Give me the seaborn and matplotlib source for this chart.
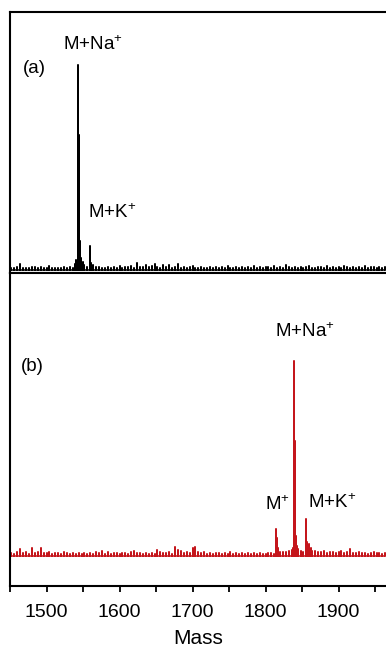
import numpy as np
import pandas as pd
import matplotlib
matplotlib.use("Agg")
import matplotlib.pyplot as plt
from matplotlib.ticker import MultipleLocator
import seaborn as sns

sns.set_style("white")
plt.rcParams['font.family'] = ['Liberation Sans', 'DejaVu Sans']
plt.rcParams['mathtext.default'] = 'regular'
plt.rcParams['text.color'] = 'black'
plt.rcParams['axes.labelcolor'] = 'black'
plt.rcParams['xtick.color'] = 'black'

# ---------------- data ----------------
noise_start = 1452
noise_step = 4

top_noise = [
    1.0, 0.8, 1.4, 2.8, 1.0, 1.2, 0.9, 1.6, 1.3, 0.8, 1.5, 1.1, 1.0, 1.9, 0.9, 1.2,
    1.0, 0.8, 1.3, 1.1, 1.6, 1.0, 2.2, 2.5, 1.8, 2.4, 1.6, 2.0, 1.8, 1.5, 1.3, 1.1,
    1.2, 1.6, 0.9, 1.4, 1.1, 1.8, 1.0, 1.5, 1.3, 2.0, 1.2, 3.2, 1.4, 1.7, 2.5, 1.3,
    2.0, 3.0, 1.5, 1.2, 2.6, 1.4, 2.2, 1.0, 1.3, 2.8, 1.1, 1.5, 1.0, 1.3, 1.9, 1.2,
    1.0, 1.4, 0.9, 1.2, 1.6, 1.0, 1.3, 1.1, 1.5, 1.0, 1.8, 1.2, 1.0, 1.6, 1.1, 1.3,
    1.0, 1.5, 1.2, 1.8, 1.0, 1.4, 1.1, 1.6, 1.3, 1.0, 1.9, 1.2, 1.5, 1.1, 2.6, 1.4,
    1.2, 1.7, 1.0, 1.5, 1.1, 1.4, 2.0, 1.2, 1.0, 1.6, 1.3, 1.1, 1.8, 1.0, 1.4, 1.2,
    1.5, 1.1, 1.9, 1.3, 1.0, 1.6, 1.2, 1.4, 1.0, 1.8, 1.1, 1.3, 1.7, 1.0, 1.5, 1.2,
    1.4,
]
bottom_noise = [
    1.5, 1.2, 2.0, 3.5, 1.4, 1.8, 1.1, 4.0, 1.6, 2.2, 4.2, 1.5, 1.3, 1.9, 1.2, 1.6,
    1.4, 1.1, 1.8, 1.3, 1.0, 1.5, 1.2, 1.7, 1.1, 1.4, 1.0, 1.6, 1.2, 1.9, 1.3, 2.4,
    1.2, 1.8, 1.1, 1.5, 1.3, 1.0, 1.6, 1.4, 1.2, 1.8, 2.8, 1.3, 1.5, 1.1, 1.7, 1.2,
    1.4, 1.2, 3.2, 2.0, 1.6, 1.3, 1.8, 1.1, 4.5, 3.0, 2.5, 1.4, 2.0, 1.6, 4.2, 4.5,
    2.0, 1.5, 1.8, 1.2, 1.4, 1.0, 1.6, 1.3, 1.1, 1.5, 1.2, 1.8, 1.0, 1.4, 1.1, 1.3,
    1.2, 1.5, 1.0, 1.4, 1.1, 1.6, 1.2, 1.0, 1.5, 1.3, 1.1, 1.4, 1.8, 2.0, 2.2, 2.5,
    3.0, 4.0, 3.5, 2.6, 2.2, 3.0, 4.5, 2.8, 2.4, 2.0, 1.8, 2.5, 1.6, 2.2, 1.8, 1.5,
    1.8, 2.6, 1.5, 2.0, 3.5, 1.6, 1.4, 2.0, 1.3, 1.7, 1.2, 1.5, 1.8, 1.3, 1.6, 1.2,
    1.4,
]

top_peak_mass = [1539, 1541, 1543, 1544, 1545, 1546, 1547, 1550, 1559, 1560, 1561, 1563]
top_peak_int = [3.0, 5.0, 100, 66, 34, 14, 6, 4, 11.7, 7, 3.5, 2.5]

bottom_peak_mass = [1815, 1816, 1817, 1837, 1839, 1840, 1841, 1842, 1843,
                    1855, 1856, 1857, 1859, 1862]
bottom_peak_int = [13.8, 9, 4, 4, 100, 59, 27, 10, 5, 19, 13, 7, 6, 4]

x_ticks = [1500, 1600, 1700, 1800, 1900]
panel_labels = ["(a)", "(b)"]


def stick_frame(noise, pk_mass, pk_int):
    n_mass = noise_start + noise_step * np.arange(len(noise))
    m = np.concatenate([n_mass, np.array(pk_mass, float)])
    h = np.concatenate([np.array(noise, float), np.array(pk_int, float)])
    order = np.argsort(m, kind="stable")
    m, h = m[order], h[order]
    xs = np.repeat(m, 3)
    ys = np.zeros(len(xs))
    ys[1::3] = h
    return pd.DataFrame({"Mass": xs, "Intensity": ys})


top_df = stick_frame(top_noise, top_peak_mass, top_peak_int)
bot_df = stick_frame(bottom_noise, bottom_peak_mass, bottom_peak_int)

# ---------------- figure ----------------
W, H = 386, 648
fig = plt.figure(figsize=(W / 100, H / 100), dpi=100)
left = 10 / W
ax_top = fig.add_axes([left, 1 - 273 / H, 1 - left, (273 - 12) / H])
ax_bot = fig.add_axes([left, 1 - 586 / H, 1 - left, (586 - 273) / H], sharex=ax_top)

red = "#c4161c"
sns.lineplot(data=top_df, x="Mass", y="Intensity", sort=False, estimator=None,
             color="black", lw=1.1, ax=ax_top)
sns.lineplot(data=bot_df, x="Mass", y="Intensity", sort=False, estimator=None,
             color=red, lw=1.1, ax=ax_bot)

ax_top.set_xlim(1450, 1965)
ax_top.set_ylim(-1.46, 125.9)
ax_bot.set_ylim(-15.4, 145.1)

for ax in (ax_top, ax_bot):
    ax.set_yticks([])
    ax.set_ylabel("")
    ax.spines["right"].set_visible(False)
    for s in ("left", "top", "bottom"):
        ax.spines[s].set_linewidth(1.5)
        ax.spines[s].set_color("black")

ax_top.set_xlabel("")
ax_top.tick_params(axis="x", which="both", bottom=False, labelbottom=False)

ax_bot.set_xticks(x_ticks)
ax_bot.set_xticklabels([str(t) for t in x_ticks])
ax_bot.xaxis.set_minor_locator(MultipleLocator(50))
ax_bot.tick_params(axis="x", which="both", direction="out", length=4, width=1.3,
                   bottom=True, labelsize=14, pad=9, colors="black")
ax_bot.set_xlabel("Mass", fontsize=15, labelpad=6)

fs = 13.5
ax_top.text(1467.8, 98.5, panel_labels[0], fontsize=fs, va="center", ha="left")
ax_top.text(1522.6, 109.8, r"M+Na$^{+}$", fontsize=fs, va="center", ha="left")
ax_top.text(1556.8, 27.8, r"M+K$^{+}$", fontsize=fs, va="center", ha="left")

ax_bot.text(1465, 96.9, panel_labels[1], fontsize=fs, va="center", ha="left")
ax_bot.text(1813, 114.9, r"M+Na$^{+}$", fontsize=fs, va="center", ha="left")
ax_bot.text(1799.3, 26.2, r"M$^{+}$", fontsize=fs, va="center", ha="left")
ax_bot.text(1858.2, 27.2, r"M+K$^{+}$", fontsize=fs, va="center", ha="left")

fig.savefig("out.png", dpi=100)
